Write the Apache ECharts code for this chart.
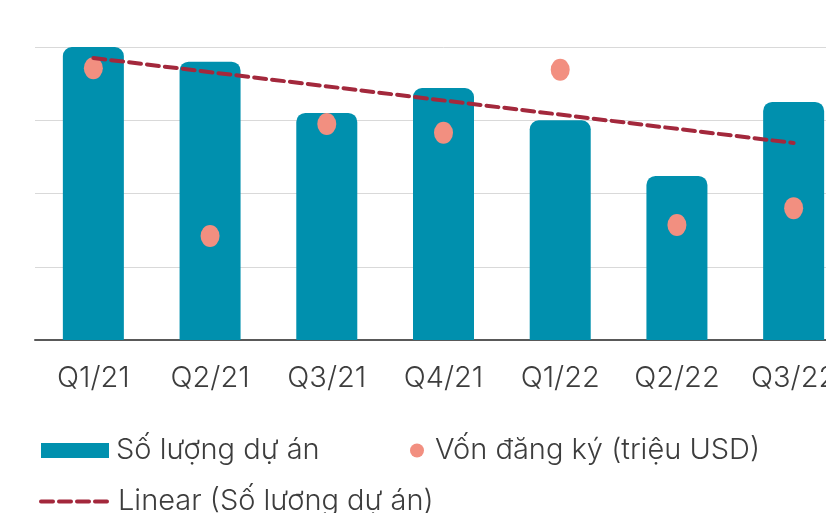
<!DOCTYPE html>
<html>
<head>
<meta charset="utf-8">
<script src="https://cdn.jsdelivr.net/npm/echarts@6/dist/echarts.min.js"></script>
<style>
  html, body { margin: 0; padding: 0; background: #fff; overflow: hidden; }
  /* the original picture is cropped on the right, so the chart is drawn a bit wider */
  #chart { width: 852px; height: 513px; }
</style>
</head>
<body>
<div id="chart"></div>
<script>
// values (axis hidden, so in gridline units of 100)
const quarters = ['Q1/21', 'Q2/21', 'Q3/21', 'Q4/21', 'Q1/22', 'Q2/22', 'Q3/22']
const soLuong = [400, 380, 310, 344, 300, 224, 325]
const vonDangKy = [371, 142, 295, 283, 369, 157, 180]
// trend line: only the two ends are read, the rest is joined straight
const trend = [385, null, null, null, null, null, 269]

const font = 'Inter, "Noto Sans", sans-serif'
const textColor = '#3d3d3d'
const trendStyle = { color: '#a3283c', width: 4, type: [12, 6], cap: 'round' }
const legendText = { fontSize: 29, color: textColor, fontFamily: font, fontWeight: 300, padding: [0, 0, 0, 2] }

const chart = echarts.init(document.getElementById('chart'), null, { renderer: 'canvas' })

const option = {
  animation: false,
  backgroundColor: '#fff',
  textStyle: { fontFamily: font },
  grid: { left: 35, top: 47, right: 0, bottom: 173, containLabel: false },
  legend: [
    {
      left: 36, top: 431,
      itemWidth: 68, itemHeight: 15,
      textStyle: legendText,
      data: [{ name: 'Số lượng dự án', icon: 'rect' }]
    },
    {
      left: 405, top: 431,
      itemWidth: 14, itemHeight: 16,
      textStyle: Object.assign({}, legendText, { padding: [0, 0, 0, 6] }),
      data: [{ name: 'Vốn đăng ký (triệu USD)', icon: 'circle' }]
    },
    {
      left: 34, top: 482,
      itemWidth: 70, itemHeight: 15,
      textStyle: legendText,
      itemStyle: { opacity: 0 },
      lineStyle: trendStyle,
      data: [{ name: 'Linear (Số lượng dự án)' }]
    }
  ],
  xAxis: {
    type: 'category',
    data: quarters,
    axisTick: { show: false },
    axisLine: { lineStyle: { color: '#595959', width: 2 } },
    axisLabel: { fontSize: 29, color: textColor, margin: 24, fontFamily: font, fontWeight: 300 }
  },
  yAxis: {
    type: 'value',
    min: 0, max: 400, interval: 100,
    axisLabel: { show: false },
    axisLine: { show: false },
    axisTick: { show: false },
    splitLine: { lineStyle: { color: '#d9d9d9', width: 1 } }
  },
  series: [
    {
      name: 'Số lượng dự án',
      type: 'bar',
      data: soLuong,
      barWidth: 61,
      itemStyle: { color: '#0090ae', borderRadius: [9, 9, 0, 0] },
      z: 2
    },
    {
      name: 'Vốn đăng ký (triệu USD)',
      type: 'scatter',
      data: vonDangKy,
      symbol: 'circle',
      symbolSize: [19, 22],
      itemStyle: { color: '#f28f80', opacity: 1 },
      z: 3
    },
    {
      name: 'Linear (Số lượng dự án)',
      type: 'line',
      data: trend,
      connectNulls: true,
      symbol: 'none',
      lineStyle: trendStyle,
      itemStyle: { color: '#a3283c' },
      z: 4
    }
  ]
}

chart.setOption(option)
</script>
</body>
</html>
